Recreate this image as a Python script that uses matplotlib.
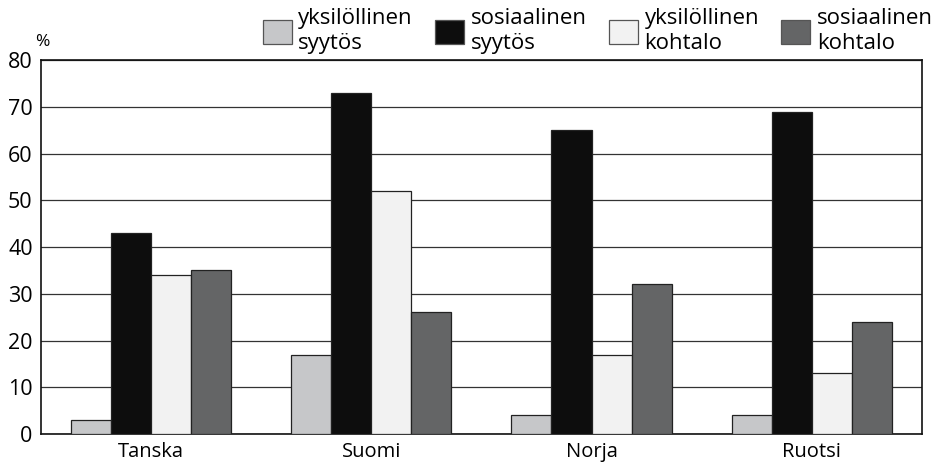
import numpy as np
import matplotlib.pyplot as plt
from matplotlib.patches import Patch

# data
maat = ['Tanska', 'Suomi', 'Norja', 'Ruotsi']
sarjat = ['yksilöllinen\nsyytös', 'sosiaalinen\nsyytös',
          'yksilöllinen\nkohtalo', 'sosiaalinen\nkohtalo']
yks_syytos = [3, 17, 4, 4]
sos_syytos = [43, 73, 65, 69]
yks_kohtalo = [34, 52, 17, 13]
sos_kohtalo = [35, 26, 32, 24]

arvot = [yks_syytos, sos_syytos, yks_kohtalo, sos_kohtalo]
varit = ['#c6c7c9', '#0d0d0d', '#f2f2f2', '#646566']

plt.rcParams['font.family'] = ['Open Sans', 'DejaVu Sans']

fig = plt.figure(figsize=(9.35, 4.65), dpi=100)
ax = fig.add_axes([0.0439, 0.0667, 0.942, 0.804])

x = np.arange(len(maat))
w = 40 / 220
for i, (vals, c) in enumerate(zip(arvot, varit)):
    ax.bar(x + (i - 1.5) * w, vals, width=w, color=c,
           edgecolor='#222222', linewidth=0.9, zorder=3)

ax.set_xlim(-0.5, 3.5)
ax.set_ylim(0, 80)
ax.set_yticks(range(0, 81, 10))
ax.grid(axis='y', color='#333333', linewidth=0.9, zorder=0)
ax.set_xticks(x)
ax.set_xticklabels(maat)
ax.tick_params(axis='both', length=0)
ax.tick_params(axis='x', pad=6, labelsize=14.5)
ax.tick_params(axis='y', pad=6, labelsize=15.5)
for s in ax.spines.values():
    s.set_linewidth(1.2)
    s.set_color('#111111')

fig.text(0.038, 0.9, '%', fontsize=12.5)

kahvat = [Patch(facecolor=c, edgecolor='#555555', linewidth=0.9) for c in varit]
fig.legend(kahvat, sarjat, ncol=4, loc='upper left',
           bbox_to_anchor=(0.262, 1.02), frameon=False, fontsize=16,
           handlelength=1.3, handleheight=1.3, handletextpad=0.3,
           columnspacing=1.0, labelspacing=0, borderpad=0.3)

fig.savefig('out.png', dpi=100)
